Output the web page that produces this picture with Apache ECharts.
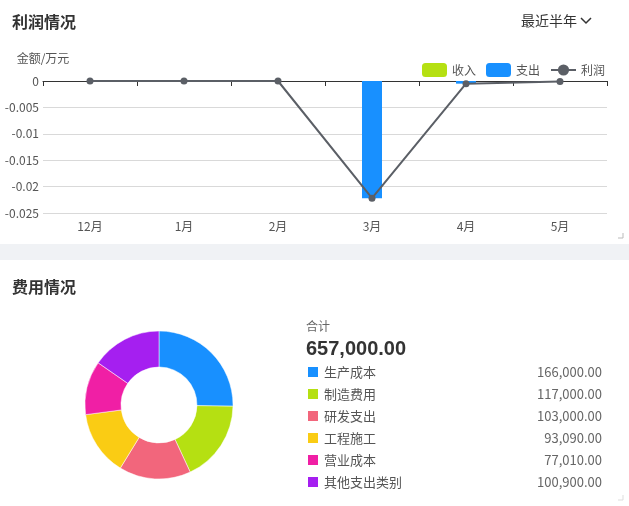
<!DOCTYPE html>
<html>
<head>
<meta charset="utf-8">
<script src="https://cdn.jsdelivr.net/npm/echarts@6/dist/echarts.min.js"></script>
<style>
html,body{margin:0;padding:0;background:#fff;}
#c{width:629px;height:506px;}
</style>
</head>
<body>
<div id="c"></div>
<script>
var months = ['12月', '1月', '2月', '3月', '4月', '5月'];
var income = [0, 0, 0, 0, 0, 0];
var expense = [0, 0, 0, -0.0222, -0.0005, 0];
var profit = [0, 0, 0, -0.0222, -0.0005, -0.0001];

var costNames = ['生产成本', '制造费用', '研发支出', '工程施工', '营业成本', '其他支出类别'];
var costValues = [166000, 117000, 103000, 93090, 77010, 100900];
var costColors = ['#1890ff', '#b5e012', '#f2667c', '#facc14', '#f01fa5', '#a51ff0'];

var FONT = '"Noto Sans CJK SC", "Microsoft YaHei", sans-serif';
function fmt(v) {
  return v.toLocaleString('en-US', {minimumFractionDigits: 2, maximumFractionDigits: 2});
}
var total = costValues.reduce(function (a, b) { return a + b; }, 0);
var valueMap = {};
costNames.forEach(function (n, i) { valueMap[n] = costValues[i]; });

var chart = echarts.init(document.getElementById('c'));
chart.setOption({
  backgroundColor: '#fff',
  textStyle: {fontFamily: FONT},
  title: [
    {text: '利润情况', left: 7, top: 9, textStyle: {fontSize: 16, fontWeight: 'bold', color: '#333', fontFamily: FONT}},
    {text: '最近半年', left: 516, top: 9, textStyle: {fontSize: 14, fontWeight: 'normal', color: '#333', fontFamily: FONT}},
    {text: '费用情况', left: 7, top: 274, textStyle: {fontSize: 16, fontWeight: 'bold', color: '#333', fontFamily: FONT}},
    {text: '合计', left: 301, top: 315, textStyle: {fontSize: 12, fontWeight: 'normal', color: '#666', fontFamily: FONT}},
    {text: fmt(total), left: 301, top: 334, textStyle: {fontSize: 20, fontWeight: 'bold', color: '#333', fontFamily: '"Liberation Sans", Arial, sans-serif'}}
  ],
  graphic: [
    {type: 'rect', shape: {x: 0, y: 244, width: 629, height: 16}, style: {fill: '#f0f2f5'}, silent: true},
    {type: 'polyline', shape: {points: [[581, 18], [586, 23], [591, 18]]}, style: {stroke: '#333', lineWidth: 1.5, fill: null}},
    {type: 'polyline', shape: {points: [[618, 238], [623, 238], [623, 233]]}, style: {stroke: '#bbb', lineWidth: 1, fill: null}},
    {type: 'polyline', shape: {points: [[618, 500], [623, 500], [623, 495]]}, style: {stroke: '#ddd', lineWidth: 1, fill: null}}
  ],
  legend: [
    {
      data: ['收入', '支出', '利润'],
      right: 19, top: 58,
      itemWidth: 25, itemHeight: 14, itemGap: 10,
      textStyle: {fontSize: 12, color: '#555', fontFamily: FONT}
    },
    {
      data: costNames,
      orient: 'vertical',
      left: 301, top: 360,
      icon: 'rect',
      itemWidth: 12, itemHeight: 12, itemGap: 8, itemTextGap: 8,
      selectedMode: false,
      formatter: function (name) {
        return '{n|' + name + '}{v|' + fmt(valueMap[name]) + '}';
      },
      textStyle: {
        fontFamily: FONT,
        rich: {
          n: {width: 200, fontSize: 13, color: '#555', lineHeight: 14, fontFamily: FONT},
          v: {width: 78, align: 'right', fontSize: 13, color: '#666', lineHeight: 14, fontFamily: FONT}
        }
      }
    }
  ],
  grid: {left: 43, right: 22, top: 81, bottom: 293, containLabel: false},
  xAxis: [
    {
      type: 'category', data: months, position: 'bottom',
      axisLine: {show: false, onZero: false}, axisTick: {show: false},
      axisLabel: {color: '#555', fontSize: 12, margin: 7, fontFamily: FONT}
    },
    {
      type: 'category', data: months, position: 'top',
      axisLine: {show: true, onZero: false, lineStyle: {color: '#333', width: 1}},
      axisTick: {show: true, inside: true, length: 5, lineStyle: {color: '#333'}},
      axisLabel: {show: false}
    }
  ],
  yAxis: {
    type: 'value', min: -0.025, max: 0, interval: 0.005,
    name: '金额/万元', nameLocation: 'end', nameGap: 17,
    nameTextStyle: {color: '#555', fontSize: 12, align: 'center', fontFamily: FONT},
    axisLine: {show: false}, axisTick: {show: false},
    axisLabel: {color: '#555', fontSize: 12, margin: 4, fontFamily: FONT},
    splitLine: {lineStyle: {color: '#d9d9d9'}}
  },
  series: [
    {name: '收入', type: 'bar', stack: 'p', barWidth: 20, data: income, itemStyle: {color: '#b5e012'}},
    {name: '支出', type: 'bar', stack: 'p', barWidth: 20, data: expense, itemStyle: {color: '#1890ff'}},
    {
      name: '利润', type: 'line', data: profit,
      symbol: 'circle', symbolSize: 7,
      lineStyle: {color: '#5b5f66', width: 2},
      itemStyle: {color: '#5b5f66'}
    },
    {
      name: '费用', type: 'pie',
      center: [159, 405], radius: [38, 74],
      startAngle: 90, clockwise: true,
      label: {show: false}, labelLine: {show: false},
      itemStyle: {borderColor: '#fff', borderWidth: 0.5},
      data: costNames.map(function (n, i) {
        return {name: n, value: costValues[i], itemStyle: {color: costColors[i]}};
      })
    }
  ]
});
</script>
</body>
</html>
